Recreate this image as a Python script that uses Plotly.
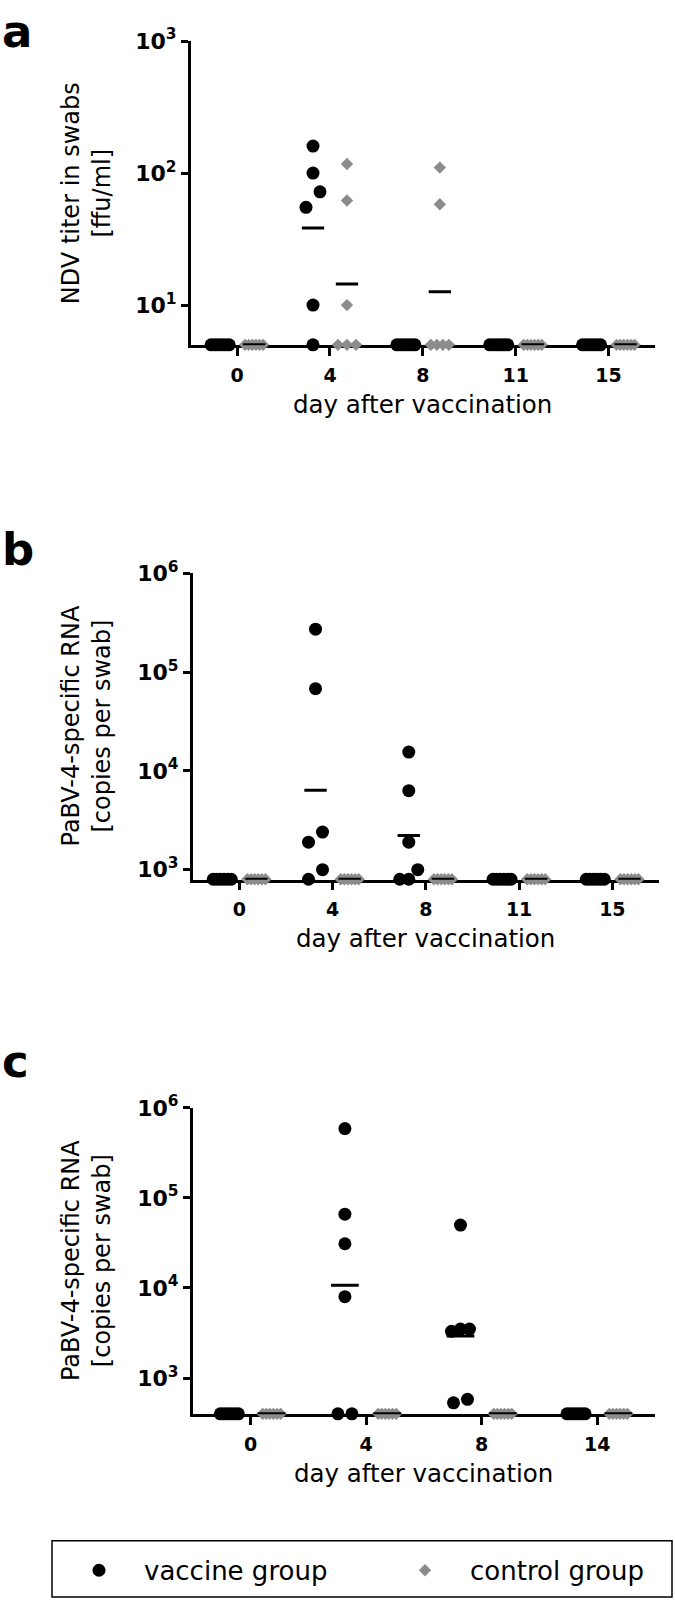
import numpy as np
import plotly.graph_objects as go

W, H = 675, 1603

# ---------------- data ----------------
# Panel a: NDV titer in swabs [ffu/ml]
days_a = ["0", "4", "8", "11", "15"]
vac_a = [
    [5, 5, 5, 5, 5, 5],
    [160, 100, 72, 55, 10, 5],
    [5, 5, 5, 5, 5, 5],
    [5, 5, 5, 5, 5, 5],
    [5, 5, 5, 5, 5, 5],
]
ctl_a = [
    [5, 5, 5, 5, 5, 5],
    [117, 62, 10, 5, 5, 5],
    [110, 58, 5, 5, 5, 5],
    [5, 5, 5, 5, 5, 5],
    [5, 5, 5, 5, 5, 5],
]
base_a = 5

# Panel b: PaBV-4-specific RNA [copies per swab]
days_b = ["0", "4", "8", "11", "15"]
vac_b = [
    [800, 800, 800, 800, 800, 800],
    [272000, 68000, 2400, 1900, 1000, 800],
    [15500, 6300, 1900, 1000, 800, 800],
    [800, 800, 800, 800, 800, 800],
    [800, 800, 800, 800, 800, 800],
]
ctl_b = [
    [800, 800, 800, 800, 800, 800],
    [800, 800, 800, 800, 800, 800],
    [800, 800, 800, 800, 800, 800],
    [800, 800, 800, 800, 800, 800],
    [800, 800, 800, 800, 800, 800],
]
base_b = 800

# Panel c: PaBV-4-specific RNA [copies per swab]
days_c = ["0", "4", "8", "14"]
vac_c = [
    [400, 400, 400, 400, 400, 400],
    [590000, 66000, 31000, 8000, 400, 400],
    [50000, 3500, 3500, 3300, 580, 530],
    [400, 400, 400, 400, 400, 400],
]
ctl_c = [
    [400, 400, 400, 400, 400, 400],
    [400, 400, 400, 400, 400, 400],
    [400, 400, 400, 400, 400, 400],
    [400, 400, 400, 400, 400, 400],
]
base_c = 400

ytick_a = [10, 100, 1000]
ytick_bc = [1e3, 1e4, 1e5, 1e6]

# ---------------- layout geometry (pixels) ----------------
panels = [
    dict(days=days_a, vac=vac_a, ctl=ctl_a, base=base_a, top=1000,
         x0=190.7, x1=655.0, y0=25.3, y1=333.3, yt=ytick_a,
         title="NDV titer in swabs<br>[ffu/ml]", letter="a", ly=16),
    dict(days=days_b, vac=vac_b, ctl=ctl_b, base=base_b, top=1e6,
         x0=192.7, x1=659.0, y0=564.0, y1=874.0, yt=ytick_bc,
         title="PaBV-4-specific RNA<br>[copies per swab]", letter="b", ly=540),
    dict(days=days_c, vac=vac_c, ctl=ctl_c, base=base_c, top=1e6,
         x0=192.7, x1=655.0, y0=1105.0, y1=1415.0, yt=ytick_bc,
         title="PaBV-4-specific RNA<br>[copies per swab]", letter="c", ly=1058),
]

GROUP_OFF = 0.183
HALF_MEAN = 0.12
GRAY = "#8c8c8c"
FONT = "DejaVu Sans"


def swarm(values, px_per_dec, thresh=17.0):
    vals = np.asarray(values, dtype=float)
    ypx = np.log10(vals) * px_per_dec
    order = list(np.argsort(ypx, kind="stable"))
    rows, cur = [], [order[0]]
    for i in order[1:]:
        if ypx[i] - ypx[cur[0]] < thresh:
            cur.append(i)
        else:
            rows.append(cur)
            cur = [i]
    rows.append(cur)
    off = np.zeros(len(vals))
    for r in rows:
        n = len(r)
        if n == 1:
            continue
        w = min(14.0, 18.0 / (n - 1))
        rs = sorted(r, key=lambda k: vals[k])
        for j, k in enumerate(rs):
            off[k] = (j - (n - 1) / 2) * w
    return off


fig = go.Figure()
annotations = []

for p_i, p in enumerate(panels):
    n = len(p["days"])
    xr = [-0.5, n - 0.5]
    yr = [np.log10(p["base"]) - 0.004, np.log10(p["top"])]
    px_unit = (p["x1"] - p["x0"]) / (xr[1] - xr[0])
    px_dec = (p["y1"] - p["y0"]) / (yr[1] - yr[0])
    sfx = "" if p_i == 0 else str(p_i + 1)
    xa, ya = "x" + sfx, "y" + sfx

    mean_x, mean_y = [], []
    series = [
        (p["vac"], -GROUP_OFF, "vaccine group", "legend",
         dict(symbol="circle", size=13, color="black")),
        (p["ctl"], GROUP_OFF, "control group", "legend2",
         dict(symbol="diamond", size=9.5, color=GRAY)),
    ]
    for data, goff, name, lg, mk in series:
        xs, ys = [], []
        for d, vals in enumerate(data):
            offs = swarm(vals, px_dec) / px_unit
            for v, o in zip(vals, offs):
                xs.append(d + goff + o)
                ys.append(v)
            gm = 10 ** np.mean(np.log10(vals))
            c = d + goff
            mean_x += [c - HALF_MEAN, c + HALF_MEAN, None]
            mean_y += [gm, gm, None]
        fig.add_trace(go.Scatter(
            x=xs, y=ys, mode="markers", name=name, legendgroup=name, legend=lg,
            showlegend=(p_i == 0), marker=dict(**mk, line=dict(width=0)),
            cliponaxis=False, xaxis=xa, yaxis=ya, hoverinfo="skip"))
    fig.add_trace(go.Scatter(
        x=mean_x, y=mean_y, mode="lines", line=dict(color="black", width=3),
        showlegend=False, cliponaxis=False, xaxis=xa, yaxis=ya, hoverinfo="skip"))

    common = dict(showline=True, linecolor="black", linewidth=2.5, ticks="outside",
                  tickwidth=2.5, tickcolor="black", showgrid=False, zeroline=False,
                  layer="below traces")
    xdom = [p["x0"] / W, p["x1"] / W]
    ydom = [1 - p["y1"] / H, 1 - p["y0"] / H]
    expo = [int(round(np.log10(t))) for t in p["yt"]]
    fig.update_layout(**{
        "xaxis" + sfx: dict(domain=xdom, range=xr, tickmode="array",
                            tickvals=list(range(n)), ticktext=p["days"],
                            ticklen=8, anchor=ya, ticklabelstandoff=3,
                            tickfont=dict(family=FONT, size=19, color="black",
                                          weight="bold"),
                            **common),
        "yaxis" + sfx: dict(domain=ydom, type="log", range=yr, tickmode="array",
                            tickvals=p["yt"],
                            ticktext=["10<sup>%d</sup>" % e for e in expo],
                            ticklen=7, anchor=xa,
                            tickfont=dict(family=FONT, size=22, color="black",
                                          weight="bold"),
                            **common),
    })
    # y-axis title
    annotations.append(dict(
        text=p["title"], textangle=-90, x=86 / W, y=1 - (p["y0"] + p["y1"]) / 2 / H,
        xref="paper", yref="paper", xanchor="center", yanchor="middle",
        showarrow=False, font=dict(family=FONT, size=24, color="black")))
    # x-axis title
    annotations.append(dict(
        text="day after vaccination", x=(p["x0"] + p["x1"]) / 2 / W,
        y=1 - (p["y1"] + 60) / H, xref="paper", yref="paper",
        xanchor="center", yanchor="middle", showarrow=False,
        font=dict(family=FONT, size=24.5, color="black")))
    # panel letter
    annotations.append(dict(
        text="<b>%s</b>" % p["letter"], x=0 / W, y=1 - p["ly"] / H,
        xref="paper", yref="paper", xanchor="left", yanchor="middle",
        showarrow=False, font=dict(family=FONT, size=45, color="black")))

leg_common = dict(orientation="h", xanchor="left", yanchor="middle",
                  bgcolor="rgba(0,0,0,0)", borderwidth=0, itemwidth=80,
                  font=dict(family=FONT, size=26, color="black"))

fig.update_layout(
    width=W, height=H, margin=dict(l=0, r=0, t=0, b=0),
    paper_bgcolor="white", plot_bgcolor="white",
    annotations=annotations,
    showlegend=True,
    legend=dict(x=54 / W, y=1 - 1573 / H, **leg_common),
    legend2=dict(x=380 / W, y=1 - 1573 / H, **leg_common),
    shapes=[dict(type="rect", xref="paper", yref="paper",
                 x0=52 / W, x1=672 / W, y0=1 - 1600 / H, y1=1 - 1543 / H,
                 line=dict(color="black", width=1.5))],
)

fig.write_html(
    "out.html",
    config={"displayModeBar": False},
    post_script="document.body.style.margin='0px';"
                "document.body.style.overflow='hidden';",
)
